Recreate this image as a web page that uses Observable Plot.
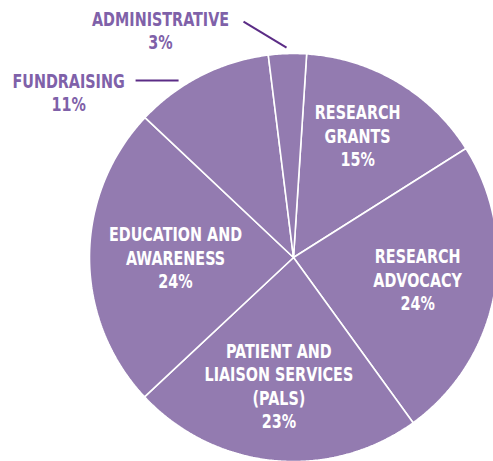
<!DOCTYPE html>
<html><head><meta charset="utf-8">
<script src="https://cdn.jsdelivr.net/npm/d3@7"></script>
<script src="https://cdn.jsdelivr.net/npm/@observablehq/plot@0.6"></script>
<style>html,body{margin:0;padding:0;background:#fff}svg{display:block}</style>
</head><body><div id="chart"></div>
<script>
// ---- data ----
const categories = ["Research Grants", "Research Advocacy", "Patient and Liaison Services (PALS)", "Education and Awareness", "Fundraising", "Administrative"];
const labelLines = [["RESEARCH", "GRANTS"], ["RESEARCH", "ADVOCACY"], ["PATIENT AND", "LIAISON SERVICES", "(PALS)"], ["EDUCATION AND", "AWARENESS"], ["FUNDRAISING"], ["ADMINISTRATIVE"]];
const values = [15, 24, 23, 24, 11, 3];
const insideLabel = [true, true, true, true, false, false];

// ---- layout ----
const W = 493, H = 461;
const cx = 293, cy = 257, R = 204;
const startDeg = 3.7;
const rad = d => d * Math.PI / 180;
// inside label placement: [radius, angle offset deg]
const insidePolar = [[138, -3], [126, -1], [129, 1], [118, 0]];
// outside annotations: anchor polar [radius, angleDeg], line delta [dx,dy], text delta from line start [dx,dy]
const outside = {
  4: {anchor: [211, -33], line: [-43, 0], text: [-67, 11.5]},
  5: {anchor: [210, -1.9], line: [-43, -26], text: [-83, 8.5]}
};

const pie = d3.pie().sort(null).startAngle(rad(startDeg)).endAngle(rad(startDeg) + 2 * Math.PI)(values);
const pt = (r, a) => ({x: r * Math.sin(a), y: -r * Math.cos(a)});

const slicePts = [];
pie.forEach((s, i) => {
  slicePts.push({i, ...pt(0, 0)});
  const n = Math.max(2, Math.ceil((s.endAngle - s.startAngle) / rad(0.5)));
  for (let k = 0; k <= n; k++) {
    const a = s.startAngle + (s.endAngle - s.startAngle) * k / n;
    slicePts.push({i, ...pt(R, a)});
  }
  slicePts.push({i, ...pt(0, 0)});
});

const texts = [], outTexts = [], leaders = [];
pie.forEach((s, i) => {
  const mid = (s.startAngle + s.endAngle) / 2;
  const label = labelLines[i].join("\n") + "\n" + values[i] + "%";
  if (insideLabel[i]) {
    const [r, da] = insidePolar[i];
    texts.push({label, ...pt(r, mid + rad(da))});
  } else {
    const o = outside[i];
    const end = pt(o.anchor[0], rad(o.anchor[1]));
    const start = {x: end.x + o.line[0], y: end.y + o.line[1]};
    leaders.push({x1: start.x, y1: start.y, x2: end.x, y2: end.y});
    outTexts.push({label, x: start.x + o.text[0], y: start.y + o.text[1]});
  }
});

const font = "'DejaVu Sans Condensed','DejaVu Sans',sans-serif";

const chart = Plot.plot({
  width: W, height: H,
  margin: 0,
  x: {domain: [-cx, W - cx], range: [0, W], axis: null},
  y: {domain: [-cy, H - cy], range: [0, H], axis: null},
  style: {background: "white", fontFamily: font},
  marks: [
    Plot.line(slicePts, {x: "x", y: "y", z: "i", fill: "#937bb0", stroke: "white", strokeWidth: 1.6, strokeLinejoin: "miter", curve: "linear"}),
    Plot.text(texts, {x: "x", y: "y", text: "label", fill: "white", fontSize: 19, fontWeight: "bold", lineHeight: 1.23, textAnchor: "middle"}),
    Plot.link(leaders, {x1: "x1", y1: "y1", x2: "x2", y2: "y2", stroke: "#5b2c86", strokeWidth: 2}),
    Plot.text(outTexts, {x: "x", y: "y", text: "label", fill: "#7f61a9", fontSize: 19, fontWeight: "bold", lineHeight: 1.23, textAnchor: "middle"})
  ]
});
chart.querySelectorAll("text").forEach(t => {
  t.style.fontStretch = "condensed";
  const tr = t.getAttribute("transform");
  if (tr) t.setAttribute("transform", tr + " scale(0.84,1)");
});
document.getElementById("chart").appendChild(chart);
</script>
</body></html>
